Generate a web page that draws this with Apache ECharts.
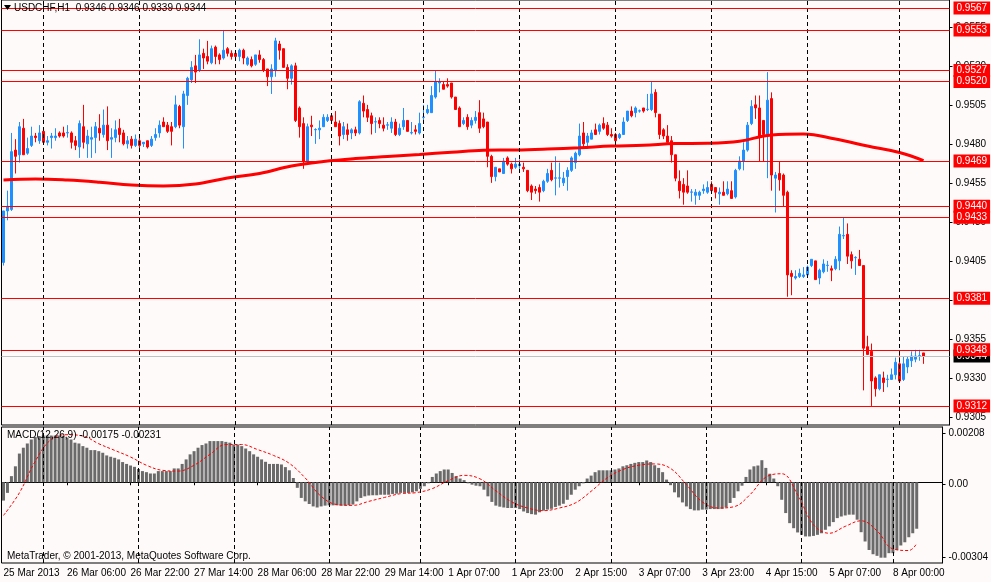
<!DOCTYPE html>
<html><head><meta charset="utf-8">
<script src="https://cdn.jsdelivr.net/npm/echarts@6/dist/echarts.min.js"></script>
<style>html,body{margin:0;padding:0;background:#FFFAFA;}#c{width:991px;height:582px;}</style>
</head><body><div id="c"></div><script>
// ---- data ----
const symbolName = 'USDCHF,H1';
const sessionDays = [['25 Mar',14,23],['26 Mar',0,23],['27 Mar',0,23],['28 Mar',0,23],['29 Mar',0,22],['1 Apr',0,23],['2 Apr',0,23],['3 Apr',0,23],['4 Apr',0,23],['5 Apr',0,22],['8 Apr',0,6]];
const emptyBarsRight = 6;
const tickLabels = ['25 Mar 2013','26 Mar 06:00','26 Mar 22:00','27 Mar 14:00','28 Mar 06:00','28 Mar 22:00','29 Mar 14:00','1 Apr 07:00','1 Apr 23:00','2 Apr 15:00','3 Apr 07:00','3 Apr 23:00','4 Apr 15:00','5 Apr 07:00','8 Apr 00:00'];
const priceTicks = [0.9305,0.9330,0.9355,0.9380,0.9405,0.9430,0.9455,0.9480,0.9505,0.9530,0.9555];
const levels = [0.9567,0.9553,0.9527,0.9520,0.9469,0.9440,0.9433,0.9381,0.9348,0.9312];
const bidPrice = 0.9344;
const macdTicks = [0.00208, 0, -0.00304];
// candles: [open, high, low, close]
const candles = [
[0.9404,0.9437,0.9402,0.9437],[0.9437,0.9450,0.9431,0.9440],[0.9438,0.9487,0.9437,0.9475],[0.9476,0.9483,0.9461,0.9472],[0.9473,0.9494,0.9468,0.9491],
[0.9490,0.9496,0.9473,0.9473],[0.9474,0.9484,0.9473,0.9477],[0.9479,0.9491,0.9478,0.9485],[0.9485,0.9487,0.9481,0.9484],[0.9482,0.9492,0.9480,0.9487],
[0.9488,0.9490,0.9480,0.9481],[0.9481,0.9485,0.9479,0.9482],[0.9484,0.9487,0.9477,0.9485],[0.9484,0.9490,0.9482,0.9485],[0.9487,0.9488,0.9484,0.9485],
[0.9487,0.9491,0.9484,0.9485],[0.9487,0.9492,0.9484,0.94872],[0.9487,0.9488,0.9477,0.9481],[0.9482,0.9485,0.9476,0.9479],[0.9478,0.9495,0.9471,0.9493],
[0.9491,0.9505,0.9477,0.9481],[0.9480,0.9489,0.9471,0.9485],[0.9483,0.9491,0.9471,0.9484],[0.9484,0.9494,0.9474,0.9491],[0.9490,0.9499,0.9482,0.9487],
[0.9486,0.9502,0.9484,0.9492],[0.9492,0.9504,0.9476,0.9482],[0.9483,0.9490,0.9471,0.9484],[0.9484,0.9495,0.9481,0.9489],[0.9490,0.9496,0.9481,0.9486],
[0.9487,0.9489,0.9479,0.9480],[0.9480,0.9485,0.9477,0.9482],[0.9483,0.9485,0.9477,0.9479],[0.9479,0.9486,0.9478,0.9483],[0.9482,0.9485,0.9477,0.9479],
[0.9480,0.9481,0.9478,0.9481],[0.9482,0.9482,0.9477,0.9478],[0.9479,0.9485,0.9478,0.9483],[0.9484,0.9490,0.9482,0.9486],[0.9487,0.9495,0.9484,0.9492],
[0.9494,0.9497,0.9491,0.9491],[0.9492,0.9494,0.9487,0.9488],[0.9491,0.9494,0.9479,0.9488],[0.9491,0.9511,0.9490,0.9505],[0.9504,0.9505,0.9490,0.9492],
[0.9491,0.9514,0.9477,0.9512],[0.9511,0.9523,0.9505,0.9522],[0.9521,0.9533,0.9519,0.9529],[0.9530,0.9537,0.9519,0.9526],[0.9527,0.9547,0.9526,0.9537],
[0.9538,0.9541,0.9528,0.9535],[0.9536,0.9546,0.9531,0.9533],[0.9532,0.9543,0.9531,0.9541],[0.9542,0.9543,0.9531,0.9536],[0.9537,0.9538,0.9531,0.9534],
[0.9535,0.9553,0.9534,0.9540],[0.9541,0.9542,0.9536,0.9538],[0.9538,0.9540,0.9534,0.9536],[0.9538,0.9540,0.9534,0.9536],[0.9536,0.9541,0.9533,0.9540],
[0.9540,0.9541,0.9531,0.9535],[0.9531,0.9536,0.9530,0.9535],[0.9534,0.9536,0.9529,0.9530],[0.9531,0.9537,0.9530,0.9537],[0.9537,0.9540,0.9532,0.9534],
[0.9534,0.9535,0.9526,0.9527],[0.9528,0.9528,0.9517,0.9523],[0.9523,0.9531,0.9512,0.9528],[0.9527,0.9548,0.9523,0.9546],[0.9544,0.9546,0.9534,0.9540],
[0.9541,0.9541,0.9529,0.9529],[0.9529,0.9531,0.9515,0.9522],[0.9522,0.9531,0.9518,0.9530],[0.9530,0.9532,0.9494,0.9495],[0.9503,0.9504,0.9484,0.9491],
[0.9493,0.9497,0.9464,0.9469],[0.9469,0.9493,0.9468,0.9491],[0.9492,0.9498,0.9485,0.9491],[0.9489,0.9490,0.9480,0.94892],[0.9489,0.9495,0.9483,0.9490],
[0.9491,0.9499,0.9491,0.9497],[0.9495,0.9499,0.9494,0.9497],[0.9498,0.9499,0.9494,0.9495],[0.9494,0.9501,0.9491,0.9491],[0.9493,0.9495,0.9479,0.9485],
[0.9486,0.9494,0.9483,0.9491],[0.9489,0.9493,0.9482,0.9486],[0.9487,0.9490,0.9483,0.9489],[0.9489,0.9491,0.9485,0.9487],[0.9487,0.9508,0.9486,0.9507],
[0.9506,0.9511,0.9497,0.9501],[0.9502,0.9505,0.9494,0.9497],[0.9498,0.9500,0.9486,0.9493],[0.9494,0.9497,0.9487,0.94942],[0.9495,0.9497,0.9490,0.9493],
[0.9492,0.9497,0.9488,0.9490],[0.9492,0.9494,0.9489,0.94922],[0.9490,0.9497,0.9487,0.9494],[0.9494,0.9496,0.9485,0.9486],[0.9486,0.9493,0.9485,0.9490],
[0.9491,0.9503,0.9489,0.9495],[0.9495,0.9495,0.9488,0.9488],[0.9487,0.9494,0.9486,0.94872],[0.9489,0.9492,0.9486,0.9488],[0.9487,0.9500,0.9486,0.9493],
[0.9497,0.9505,0.9495,0.94972],[0.9500,0.9505,0.9499,0.9502],[0.9500,0.9517,0.9500,0.9511],[0.9510,0.9527,0.9509,0.9520],[0.9519,0.9522,0.9513,0.9520],
[0.9518,0.9520,0.9515,0.9515],[0.9518,0.9522,0.9516,0.9517],[0.9519,0.9519,0.9509,0.9510],[0.9510,0.9510,0.9502,0.9502],[0.9503,0.9504,0.9491,0.9491],
[0.9493,0.9497,0.9492,0.9495],[0.9497,0.9499,0.9489,0.9491],[0.9492,0.9497,0.9490,0.9495],[0.9495,0.9501,0.9493,0.9497],[0.9500,0.9508,0.9487,0.9490],
[0.9496,0.9500,0.9490,0.9491],[0.9494,0.9494,0.9465,0.9472],[0.9472,0.9473,0.9455,0.9459],[0.9459,0.9465,0.9456,0.9465],[0.9464,0.9464,0.9462,0.9462],
[0.9461,0.9471,0.9461,0.9469],[0.9471,0.9472,0.9466,0.9467],[0.9467,0.9468,0.9461,0.9464],[0.9465,0.9471,0.9464,0.9467],[0.9466,0.9470,0.9464,0.9467],
[0.9465,0.9468,0.9462,0.9464],[0.9463,0.9463,0.9449,0.9450],[0.9453,0.9454,0.9444,0.9449],[0.9451,0.9453,0.9448,0.9450],[0.9452,0.9454,0.9443,0.9449],
[0.9450,0.9457,0.9449,0.9456],[0.9456,0.9464,0.9455,0.9461],[0.9463,0.9468,0.9456,0.9457],[0.9458,0.9472,0.9447,0.94582],[0.9458,0.9468,0.9452,0.94582],
[0.9455,0.9462,0.9453,0.9458],[0.9459,0.9465,0.9450,0.9463],[0.9463,0.9472,0.9462,0.9471],[0.9468,0.9475,0.9464,0.9474],[0.9473,0.9493,0.9472,0.9485],
[0.9487,0.9494,0.9477,0.9480],[0.9481,0.9487,0.9477,0.9485],[0.9483,0.9489,0.9483,0.9487],[0.9489,0.9493,0.9486,0.9486],[0.9488,0.9493,0.9486,0.9492],
[0.9493,0.9497,0.9489,0.9490],[0.9492,0.9494,0.9485,0.9486],[0.9486,0.9490,0.9484,0.9485],[0.9486,0.9487,0.9481,0.9482],[0.9484,0.9487,0.9483,0.9486],
[0.9486,0.9497,0.9486,0.9494],[0.9495,0.9501,0.9494,0.9501],[0.9501,0.9504,0.9497,0.9498],[0.9500,0.9504,0.9497,0.9503],[0.9501,0.9502,0.9500,0.95012],
[0.9503,0.9503,0.9500,0.9501],[0.9502,0.9512,0.9501,0.95022],[0.9502,0.9520,0.9501,0.9512],[0.9513,0.9515,0.9497,0.9500],[0.9499,0.9499,0.9483,0.9486],
[0.9489,0.9490,0.9483,0.9485],[0.9485,0.9492,0.9481,0.9481],[0.9482,0.9485,0.9468,0.9473],[0.9473,0.9473,0.9456,0.9458],[0.9456,0.9463,0.9445,0.9450],
[0.9454,0.9458,0.9441,0.9449],[0.9453,0.9463,0.9448,0.9449],[0.9449,0.9451,0.9443,0.94492],[0.9447,0.9451,0.9441,0.9449],[0.9447,0.9450,0.9444,0.9449],
[0.9450,0.9454,0.9448,0.9451],[0.9449,0.9456,0.9448,0.9452],[0.9454,0.9456,0.9449,0.9450],[0.9452,0.9452,0.9445,0.9449],[0.9448,0.9452,0.9441,0.9449],
[0.9449,0.9456,0.9447,0.9447],[0.9448,0.9456,0.9447,0.9451],[0.9450,0.9456,0.9445,0.9445],[0.9446,0.9464,0.9445,0.9463],[0.9464,0.9472,0.9463,0.9469],
[0.9469,0.9481,0.9463,0.9476],[0.9476,0.9494,0.9475,0.9492],[0.9493,0.9508,0.9492,0.9504],[0.9505,0.9511,0.9496,0.9503],[0.9503,0.9511,0.9469,0.9485],
[0.9495,0.9495,0.9469,0.9486],[0.9486,0.9526,0.9458,0.9508],[0.9509,0.9513,0.9450,0.9460],[0.9458,0.9462,0.9436,0.9460],[0.9461,0.9469,0.9450,0.9457],
[0.9460,0.9461,0.9440,0.9447],[0.9449,0.9450,0.9382,0.9396],[0.9397,0.9399,0.9383,0.9395],[0.9394,0.9399,0.9393,0.9395],[0.9395,0.9400,0.9394,0.9397],
[0.9395,0.9401,0.9394,0.9396],[0.9396,0.9402,0.9396,0.9401],[0.9402,0.9406,0.9401,0.9406],[0.9405,0.9405,0.9393,0.9393],[0.9394,0.9400,0.9390,0.9399],
[0.9398,0.9406,0.9397,0.9403],[0.9402,0.9405,0.9398,0.94022],[0.9400,0.9402,0.9392,0.9399],[0.9400,0.9408,0.9399,0.9406],[0.9405,0.9427,0.9399,0.9422],
[0.9421,0.9433,0.9419,0.94212],[0.9422,0.9429,0.9403,0.9408],[0.9409,0.9411,0.9400,0.9405],[0.9407,0.9408,0.9396,0.94072],[0.9406,0.9412,0.9402,0.9402],
[0.9402,0.9402,0.9322,0.9349],[0.9350,0.9357,0.9345,0.9345],[0.9347,0.9352,0.9312,0.9328],[0.9330,0.9331,0.9318,0.9323],[0.9323,0.9332,0.9322,0.9332],
[0.9330,0.9334,0.9321,0.9327],[0.9329,0.9332,0.9324,0.93292],[0.9329,0.9336,0.9329,0.9332],[0.9332,0.9343,0.9329,0.9340],[0.9339,0.9345,0.9327,0.9328],
[0.9329,0.9344,0.9328,0.9339],[0.9337,0.9344,0.9333,0.9342],[0.9341,0.9347,0.9337,0.9344],[0.9342,0.9348,0.9340,0.9344],[0.9344,0.9348,0.9341,0.93442],
[0.9346,0.9346,0.9339,0.9344]
];
// moving average samples: [bar index, value]
const maSamples = [[0,0.94568],[8,0.94575],[16,0.94568],[24,0.94554],[32,0.94536],[40,0.94530],[48,0.94543],[56,0.94581],[64,0.94610],[72,0.94658],[80,0.94687],[88,0.94706],[96,0.94719],[104,0.94732],[112,0.94746],[120,0.94759],[128,0.94761],[136,0.94767],[144,0.94775],[152,0.94786],[160,0.94791],[168,0.94802],[176,0.94804],[184,0.94817],[192,0.94857],[200,0.94863],[208,0.94831],[216,0.94786],[224,0.94745],[230,0.94693]];
// MACD main values (histogram), one per bar
const macdValues = [
-0.00069,-0.00040,0.00023,0.00060,0.00108,0.00130,0.00146,0.00161,0.00170,0.00174,
0.00176,0.00176,0.00176,0.00176,0.00176,0.00174,0.00168,0.00161,0.00149,0.00146,
0.00136,0.00130,0.00121,0.00121,0.00117,0.00111,0.00101,0.00096,0.00092,0.00086,
0.00076,0.00069,0.00063,0.00058,0.00050,0.00042,0.00038,0.00033,0.00033,0.00042,
0.00042,0.00042,0.00042,0.00052,0.00052,0.00069,0.00086,0.00105,0.00117,0.00130,
0.00140,0.00146,0.00155,0.00155,0.00155,0.00155,0.00152,0.00149,0.00142,0.00142,
0.00136,0.00127,0.00117,0.00105,0.00096,0.00086,0.00077,0.00069,0.00069,0.00069,
0.00067,0.00057,0.00045,0.00016,-0.00021,-0.00059,-0.00072,-0.00082,-0.00091,-0.00095,
-0.00091,-0.00088,-0.00087,-0.00087,-0.00087,-0.00088,-0.00088,-0.00087,-0.00084,-0.00072,
-0.00059,-0.00053,-0.00050,-0.00049,-0.00049,-0.00047,-0.00047,-0.00047,-0.00044,-0.00043,
-0.00040,-0.00040,-0.00040,-0.00038,-0.00034,-0.00025,-0.00015,-0.00004,0.00020,0.00033,
0.00042,0.00048,0.00048,0.00035,0.00023,0.00014,0.00008,-0.00004,-0.00009,-0.00013,
-0.00015,-0.00028,-0.00053,-0.00074,-0.00088,-0.00092,-0.00095,-0.00097,-0.00097,-0.00097,
-0.00101,-0.00110,-0.00116,-0.00120,-0.00122,-0.00113,-0.00107,-0.00103,-0.00100,-0.00093,
-0.00088,-0.00081,-0.00066,-0.00047,-0.00028,-0.00015,-0.00004,0.00014,0.00025,0.00038,
0.00045,0.00045,0.00045,0.00045,0.00048,0.00052,0.00060,0.00064,0.00069,0.00073,
0.00076,0.00076,0.00082,0.00076,0.00064,0.00054,0.00038,0.00010,-0.00011,-0.00038,
-0.00057,-0.00076,-0.00091,-0.00101,-0.00106,-0.00106,-0.00103,-0.00103,-0.00101,-0.00101,
-0.00101,-0.00100,-0.00095,-0.00078,-0.00059,-0.00034,-0.00013,0.00020,0.00048,0.00060,
0.00063,0.00083,0.00054,0.00032,0.00014,-0.00015,-0.00066,-0.00116,-0.00154,-0.00173,
-0.00189,-0.00198,-0.00204,-0.00204,-0.00202,-0.00198,-0.00192,-0.00179,-0.00166,-0.00150,
-0.00135,-0.00129,-0.00125,-0.00122,-0.00122,-0.00141,-0.00188,-0.00223,-0.00255,-0.00271,
-0.00277,-0.00284,-0.00284,-0.00267,-0.00267,-0.00255,-0.00238,-0.00226,-0.00207,-0.00192,-0.00175
];
// MACD signal samples: [bar index, value]
const signalSamples = [[0,-0.00125],[4,-0.00040],[8,0.00079],[12,0.00161],[16,0.00179],[20,0.00174],[24,0.00145],[28,0.00120],[32,0.00095],[36,0.00064],[40,0.00045],[44,0.00042],[48,0.00064],[52,0.00105],[56,0.00142],[60,0.00142],[64,0.00123],[68,0.00101],[72,0.00071],[76,0.00016],[80,-0.00053],[84,-0.00084],[88,-0.00087],[92,-0.00072],[96,-0.00057],[100,-0.00043],[104,-0.00039],[108,-0.00024],[112,0.00006],[116,0.00026],[120,0.00013],[124,-0.00032],[128,-0.00074],[132,-0.00097],[136,-0.00107],[140,-0.00097],[144,-0.00078],[148,-0.00034],[152,0.00016],[156,0.00048],[160,0.00064],[164,0.00069],[168,0.00052],[172,-0.00009],[176,-0.00074],[180,-0.00097],[184,-0.00092],[188,-0.00047],[192,0.00019],[196,0.00032],[200,-0.00047],[204,-0.00160],[208,-0.00192],[212,-0.00166],[216,-0.00145],[220,-0.00183],[224,-0.00251],[228,-0.00257],[230,-0.00231]];

// ---- build ----
const pad2 = n => (n < 10 ? '0' : '') + n;
const categories = [];
sessionDays.forEach(([d, a, b]) => { for (let h = a; h <= b; h++) categories.push(d + ' ' + pad2(h) + ':00'); });
const daySeparators = [];
categories.forEach((c, i) => { if (i > 0 && c.endsWith(' 00:00')) daySeparators.push(c); });
for (let i = 1; i <= emptyBarsRight; i++) categories.push('shift ' + i);

const FONT = 'Liberation Sans';
const last = candles[candles.length - 1];
const headerText = symbolName + '  ' + last.map(v => v.toFixed(4)).join(' ');
const lastSignal = signalSamples[signalSamples.length - 1][1];
const macdText = 'MACD(12,26,9) ' + macdValues[macdValues.length - 1].toFixed(5) + ' ' + lastSignal.toFixed(5);

const sepLine = {
  silent: true, symbol: ['none', 'none'], label: {show: false}, animation: false,
  lineStyle: {color: '#000', type: [4, 3], width: 1},
  emphasis: {disabled: true},
  data: daySeparators.map(c => ({xAxis: c}))
};

const chart = echarts.init(document.getElementById('c'));
chart.setOption({
  animation: false,
  backgroundColor: '#FFFAFA',
  textStyle: {fontFamily: FONT},
  grid: [
    {left: 1.5, right: 41.5, top: 0, height: 425, show: true, borderColor: '#000', borderWidth: 1},
    {left: 1.5, right: 41.5, top: 427, height: 136, show: true, borderColor: '#000', borderWidth: 1}
  ],
  xAxis: [
    {type: 'category', gridIndex: 0, data: categories, boundaryGap: true,
      axisLine: {show: false}, axisTick: {show: false}, axisLabel: {show: false}, splitLine: {show: false}},
    {type: 'category', gridIndex: 1, data: categories, boundaryGap: true,
      axisLine: {show: true, lineStyle: {color: '#000'}},
      axisTick: {show: true, interval: 15, alignWithLabel: true, length: 3, lineStyle: {color: '#000'}},
      axisLabel: {interval: 15, align: 'left', margin: 5, color: '#000', fontSize: 10, fontFamily: FONT,
        formatter: (v, i) => (tickLabels[i / 16] !== undefined ? tickLabels[i / 16] : '')},
      splitLine: {show: false}}
  ],
  yAxis: [
    {type: 'value', gridIndex: 0, position: 'right', min: 0.92998, max: 0.95722, scale: true,
      axisLine: {show: true, lineStyle: {color: '#000'}},
      axisTick: {show: true, length: 3, customValues: priceTicks, lineStyle: {color: '#000'}},
      axisLabel: {customValues: priceTicks, margin: 6, color: '#000', fontSize: 10, fontFamily: FONT, formatter: v => v.toFixed(4)},
      splitLine: {show: false}},
    {type: 'value', gridIndex: 1, position: 'right', min: -0.00304, max: 0.00208, show: false, splitLine: {show: false}},
    {type: 'value', gridIndex: 1, position: 'right', min: -0.003258, max: 0.002339,
      axisLine: {show: true, lineStyle: {color: '#000'}},
      axisTick: {show: true, length: 3, customValues: macdTicks, lineStyle: {color: '#000'}},
      axisLabel: {customValues: macdTicks, margin: 6, color: '#000', fontSize: 10, fontFamily: FONT, formatter: v => (v === 0 ? '0.00' : v.toFixed(5))},
      splitLine: {show: false}}
  ],
  series: [
    {type: 'candlestick', name: 'USDCHF', xAxisIndex: 0, yAxisIndex: 0, barWidth: 2,
      data: candles.map(([o, h, l, c]) => [o, c, l, h]),
      itemStyle: {color: '#1E90FF', color0: '#FF0000', borderColor: '#1E90FF', borderColor0: '#FF0000', borderWidth: 1},
      emphasis: {disabled: true},
      markLine: sepLine},
    {type: 'line', name: 'MA', xAxisIndex: 0, yAxisIndex: 0, data: maSamples, smooth: 0.4,
      showSymbol: false, symbol: 'none', lineStyle: {color: '#FF0000', width: 3}, z: 3, emphasis: {disabled: true},
      markLine: {
        silent: true, symbol: ['none', 'none'], animation: false, emphasis: {disabled: true}, precision: 5,
        lineStyle: {color: '#FF0000', width: 1, type: 'solid'},
        label: {show: true, position: 'end', distance: 4, color: '#fff', backgroundColor: '#FF0000',
          padding: [2, 3, 1, 3], fontSize: 10, fontFamily: FONT, formatter: p => Number(p.value).toFixed(4)},
        data: [{yAxis: bidPrice, lineStyle: {color: '#C0C0C0'}, label: {backgroundColor: '#000'}}]
          .concat(levels.map(v => ({yAxis: v})))
      }},
    {type: 'bar', name: 'MACD', xAxisIndex: 1, yAxisIndex: 1, data: macdValues, barWidth: 3,
      itemStyle: {color: '#6A6A6A'}, emphasis: {disabled: true}, markLine: sepLine},
    {type: 'line', name: 'Signal', xAxisIndex: 1, yAxisIndex: 1, data: signalSamples, smooth: 0.4,
      showSymbol: false, symbol: 'none', lineStyle: {color: '#FF0000', width: 1, type: [3, 2]}, z: 4, emphasis: {disabled: true}}
  ],
  graphic: [
    {type: 'polygon', z: 100, shape: {points: [[4, 5], [11, 5], [7.5, 10]]}, style: {fill: '#000'}},
    {type: 'text', z: 100, left: 14, top: 3, style: {text: headerText, font: '10px "Liberation Sans"', fill: '#000'}},
    {type: 'text', z: 100, left: 7, top: 430, style: {text: macdText, font: '10px "Liberation Sans"', fill: '#000'}},
    {type: 'text', z: 100, left: 7, top: 551, style: {text: 'MetaTrader, © 2001-2013, MetaQuotes Software Corp.', font: '10px "Liberation Sans"', fill: '#000'}}
  ]
});
</script></body></html>
